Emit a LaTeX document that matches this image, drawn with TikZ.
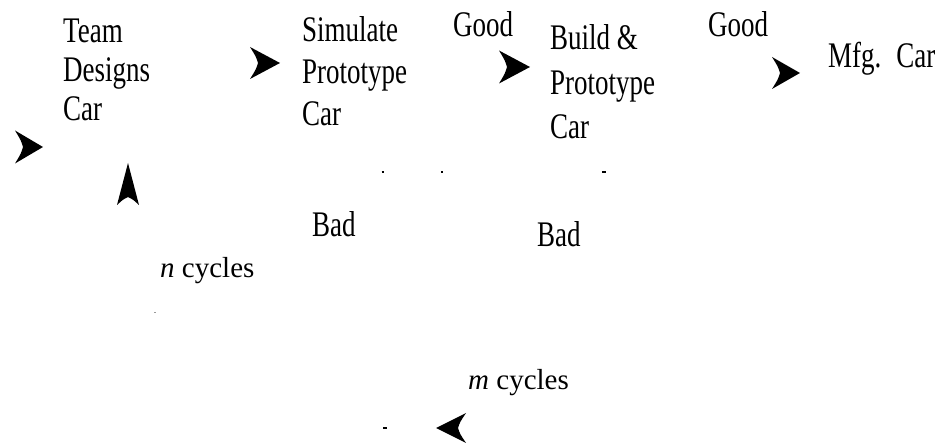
\documentclass[tikz,border=0pt]{standalone}
\usepackage{fontspec}
\setmainfont{Liberation Serif}
\newfontfamily\condfont[FakeStretch=0.75]{Liberation Serif}
\begin{document}
\begin{tikzpicture}[x=1pt,y=-1pt,
  lbl/.style={inner sep=0pt, anchor=base west, align=left, font=\condfont\fontsize{36}{39}\selectfont},
  cyc/.style={inner sep=0pt, anchor=base west, font=\fontsize{29}{33}\selectfont},
  headfill/.style={fill=black},
  speck/.style={line width=1.6pt, black}]
\useasboundingbox (0,0) rectangle (938,443);
% arrow-head shape: tip at origin pointing +x, length #4, half width #5
\newcommand{\arrhead}[5]{%
  \begin{scope}[shift={(#1,#2)}, rotate=#3]
    \fill[headfill] (0,0) -- (-#4,-#5) .. controls (-#4+6,-#5*0.4) .. (-#4+8,0)
      .. controls (-#4+6,#5*0.4) .. (-#4,#5) -- cycle;
  \end{scope}}
% texts (base anchor = baseline of the last line)
\node[lbl] (team) at (63,121) {Team\\Designs\\Car};
\node[lbl, font=\condfont\fontsize{36}{42}\selectfont] (sim) at (302,126) {Simulate\\Prototype\\Car};
\node[lbl] (good1) at (453,37) {Good};
\node[lbl, font=\condfont\fontsize{36}{44.5}\selectfont] (build) at (550,139) {Build \&\\Prototype\\Car};
\node[lbl] (good2) at (708,37) {Good};
\node[lbl] (mfg) at (828,68) {Mfg.\hspace{6pt} Car};
\node[lbl] (bad1) at (312,237) {Bad};
\node[lbl] (bad2) at (537,247) {Bad};
\node[cyc] (ncyc) at (160,278) {\textit{n} cycles};
\node[cyc] (mcyc) at (468,390) {\textit{m} cycles};
% arrow heads (the connecting lines are not visible in the original)
\arrhead{43}{147}{0}{28}{16.5}
\arrhead{280}{63}{0}{30}{16}
\arrhead{530}{67}{0}{31}{16.5}
\arrhead{800}{73}{0}{28}{16}
\arrhead{128}{163}{90}{42}{11}
\arrhead{436}{428}{180}{30}{15}
% remnant specks
\draw[speck] (381.5,172) -- (384,172);
\draw[speck] (441,172) -- (443,172);
\draw[speck] (602,172) -- (606,172);
\draw[speck] (383,428) -- (387,428);
\draw[line width=0.8pt, black!40] (154,312) -- (156,312);
\end{tikzpicture}
\end{document}
